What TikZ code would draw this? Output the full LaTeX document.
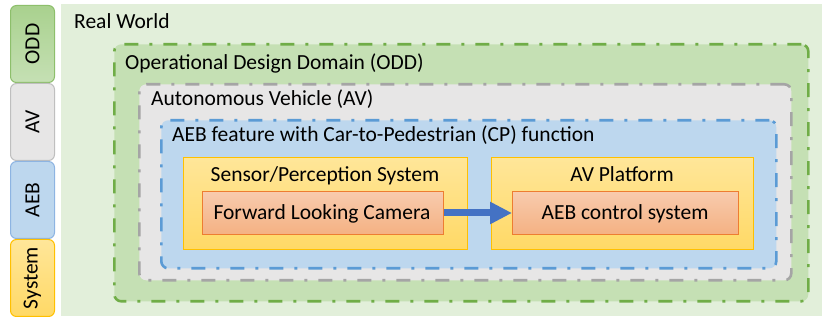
\documentclass[tikz,border=0pt]{standalone}
\usepackage{fontspec}
\setmainfont{Carlito}
\usetikzlibrary{arrows.meta}
\definecolor{rwfill}{HTML}{E2EFDA}
\definecolor{oddfill}{HTML}{C5E0B4}
\definecolor{oddline}{HTML}{70AD47}
\definecolor{avfill}{HTML}{E7E6E6}
\definecolor{avline}{HTML}{A5A5A5}
\definecolor{aebfill}{HTML}{BDD7EE}
\definecolor{aebline}{HTML}{5B9BD5}
\definecolor{sysfillA}{HTML}{FFE699}
\definecolor{sysfillB}{HTML}{FFD966}
\definecolor{sysline}{HTML}{FFC000}
\definecolor{camfillA}{HTML}{F8CBAD}
\definecolor{camfillB}{HTML}{F4B183}
\definecolor{camline}{HTML}{ED7D31}
\definecolor{arrowc}{HTML}{4472C4}
\definecolor{oddtabA}{HTML}{A9D18E}
\definecolor{oddtabline}{HTML}{8DBF6B}
\definecolor{avtabline}{HTML}{BFBFBF}
\definecolor{aebtabline}{HTML}{8DB4E2}
\begin{document}
\begin{tikzpicture}[x=1pt,y=-1pt,
  lbl/.style={font=\fontsize{21.5}{25}\selectfont, inner sep=0pt},
  zone/.style={anchor=north west, inner sep=0pt, line width=2.6pt,
    dash pattern=on 14pt off 11pt on 3pt off 11pt, rounded corners=7pt},
  oddzone/.style={zone, draw=oddline, fill=oddfill},
  avzone/.style={zone, draw=avline, fill=avfill},
  aebzone/.style={zone, draw=aebline, fill=aebfill},
  sysbox/.style={anchor=north west, inner sep=0pt, draw=sysline, line width=1pt,
    top color=sysfillA, bottom color=sysfillB},
  cambox/.style={anchor=north west, inner sep=0pt, draw=camline, line width=1pt,
    top color=camfillA, bottom color=camfillB},
  tab/.style={anchor=north west, inner sep=0pt, rounded corners=6pt, line width=1pt,
    minimum width=44pt, minimum height=77pt},
  tabtext/.style={lbl, rotate=90}
]
\useasboundingbox (0,0) rectangle (825,320);
\fill[white] (0,0) rectangle (825,320);
% real world background
\node[anchor=north west, inner sep=0pt, fill=rwfill, minimum width=761pt, minimum height=312pt] (rw) at (61,4) {};
\node[lbl, anchor=base west] (rwt) at (74,29) {Real World};
% tabs
\node[tab, draw=oddtabline, top color=oddtabA, bottom color=oddfill] (tOdd) at (10,5) {};
\node[tabtext] (tOddt) at (tOdd.center) {ODD};
\node[tab, draw=avtabline, fill=avfill] (tAv) at (10,83) {};
\node[tabtext] (tAvt) at (tAv.center) {AV};
\node[tab, draw=aebtabline, fill=aebfill] (tAeb) at (10,161) {};
\node[tabtext] (tAebt) at (tAeb.center) {AEB};
\node[tab, draw=sysline, top color=sysfillA, bottom color=sysfillB] (tSys) at (10,239) {};
\node[tabtext] (tSyst) at (tSys.center) {System};
% zones
\node[oddzone, minimum width=694pt, minimum height=257pt] (odd) at (113,43) {};
\node[lbl, anchor=base west] (oddt) at (125,70) {Operational Design Domain (ODD)};
\node[avzone, minimum width=652pt, minimum height=196pt] (av) at (138,83) {};
\node[lbl, anchor=base west] (avt) at (151,106) {Autonomous Vehicle (AV)};
\node[aebzone, minimum width=615pt, minimum height=148pt] (aeb) at (160,119) {};
\node[lbl, anchor=base west] (aebt) at (172,142) {AEB feature with Car-to-Pedestrian (CP) function};
% systems
\node[sysbox, minimum width=284pt, minimum height=92pt] (sens) at (183,157) {};
\node[lbl, anchor=base] (senst) at (325,182) {Sensor/Perception System};
\node[cambox, minimum width=241pt, minimum height=43pt] (cam) at (202,191) {};
\node[lbl, anchor=base] (camt) at (322,220) {Forward Looking Camera};
\node[sysbox, minimum width=262pt, minimum height=92pt] (plat) at (491,157) {};
\node[lbl, anchor=base] (platt) at (622,182) {AV Platform};
\node[cambox, minimum width=226pt, minimum height=43pt] (ctrl) at (512,191) {};
\node[lbl, anchor=base] (ctrlt) at (625,220) {AEB control system};
% arrow
\draw[arrowc, line width=7pt, -{Triangle[length=22pt, width=21pt]}] (cam.east) -- (ctrl.west);
\end{tikzpicture}
\end{document}
